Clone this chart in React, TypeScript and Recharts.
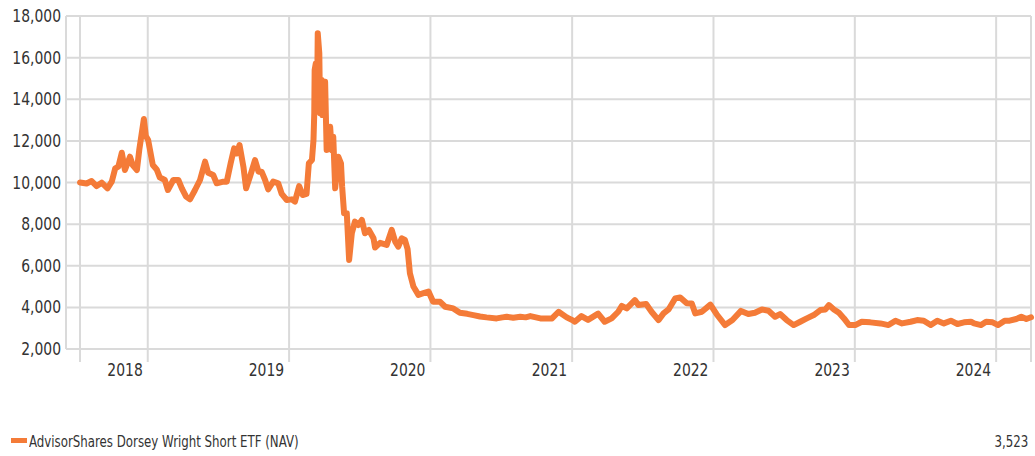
import React from 'react';
import { LineChart, Line, XAxis, YAxis, CartesianGrid } from 'recharts';

const FONT = "'Liberation Sans Narrow', 'DejaVu Sans Condensed', 'Liberation Sans', sans-serif";
const LINE_COLOR = '#f47b38';
const GRID_COLOR = '#dadada';
const TEXT_COLOR = '#333';
const SQUEEZE = 0.86;
const LEGEND_SQUEEZE = 0.82;

const SERIES_NAME = 'AdvisorShares Dorsey Wright Short ETF (NAV)';
const LAST_VALUE = '3,523';

const START = '2017-07-10';
const END = '2024-03-31';
const YEARS = [2018, 2019, 2020, 2021, 2022, 2023, 2024];
const Y_TICKS = [2000, 4000, 6000, 8000, 10000, 12000, 14000, 16000, 18000];

const DATES = [
  '2017-07-10', '2017-07-27', '2017-08-09', '2017-08-22', '2017-09-04', '2017-09-19', '2017-09-30',
  '2017-10-09', '2017-10-17', '2017-10-26', '2017-11-03', '2017-11-16', '2017-11-23', '2017-12-04',
  '2017-12-10', '2017-12-22', '2017-12-27', '2018-01-02', '2018-01-14', '2018-01-24', '2018-02-01',
  '2018-02-14', '2018-02-22', '2018-03-08', '2018-03-21', '2018-03-30', '2018-04-10', '2018-04-20',
  '2018-05-03', '2018-05-16', '2018-05-29', '2018-06-06', '2018-06-19', '2018-06-28', '2018-07-15',
  '2018-07-24', '2018-08-03', '2018-08-12', '2018-08-19', '2018-08-26', '2018-09-05', '2018-09-12',
  '2018-09-22', '2018-10-05', '2018-10-14', '2018-10-22', '2018-10-31', '2018-11-08', '2018-11-21',
  '2018-12-04', '2018-12-13', '2018-12-26', '2019-01-08', '2019-01-16', '2019-01-27', '2019-02-05',
  '2019-02-15', '2019-02-21', '2019-03-01', '2019-03-05', '2019-03-07', '2019-03-08', '2019-03-11',
  '2019-03-14', '2019-03-16', '2019-03-20', '2019-03-22', '2019-03-26', '2019-03-28', '2019-04-04',
  '2019-04-08', '2019-04-17', '2019-04-21', '2019-04-25', '2019-04-30', '2019-05-08', '2019-05-15',
  '2019-05-18', '2019-05-23', '2019-05-30', '2019-06-05', '2019-06-12', '2019-06-20', '2019-06-29',
  '2019-07-08', '2019-07-16', '2019-07-26', '2019-08-07', '2019-08-11', '2019-08-24', '2019-09-10',
  '2019-09-23', '2019-10-02', '2019-10-10', '2019-10-19', '2019-10-27', '2019-11-03', '2019-11-09',
  '2019-11-18', '2019-12-01', '2019-12-14', '2019-12-27', '2020-01-08', '2020-01-26', '2020-02-08',
  '2020-02-29', '2020-03-17', '2020-04-05', '2020-04-21', '2020-05-08', '2020-05-25', '2020-06-20',
  '2020-07-05', '2020-07-16', '2020-08-02', '2020-08-20', '2020-09-03', '2020-09-15', '2020-10-11',
  '2020-10-19', '2020-11-10', '2020-11-27', '2020-12-18', '2021-01-04', '2021-01-08', '2021-01-25',
  '2021-02-11', '2021-03-09', '2021-03-26', '2021-04-13', '2021-04-30', '2021-05-09', '2021-05-22',
  '2021-06-12', '2021-06-21', '2021-07-11', '2021-07-25', '2021-08-12', '2021-08-25', '2021-09-07',
  '2021-09-24', '2021-10-07', '2021-10-24', '2021-11-06', '2021-11-15', '2021-12-02', '2021-12-24',
  '2022-01-09', '2022-01-31', '2022-02-19', '2022-03-13', '2022-04-01', '2022-04-18', '2022-05-06',
  '2022-05-23', '2022-06-09', '2022-06-22', '2022-07-09', '2022-07-27', '2022-08-13', '2022-08-30',
  '2022-09-17', '2022-10-04', '2022-10-17', '2022-10-26', '2022-11-08', '2022-11-21', '2022-12-04',
  '2022-12-17', '2023-01-02', '2023-01-19', '2023-02-10', '2023-03-08', '2023-03-29', '2023-04-16',
  '2023-05-03', '2023-05-25', '2023-06-11', '2023-06-28', '2023-07-16', '2023-08-02', '2023-08-19',
  '2023-09-06', '2023-09-23', '2023-10-10', '2023-10-28', '2023-11-05', '2023-11-23', '2023-12-06',
  '2023-12-23', '2024-01-06', '2024-01-23', '2024-02-05', '2024-02-22', '2024-03-06', '2024-03-19',
  '2024-03-31',
];

const NAV = [
  10000, 9950, 10070, 9830, 9990, 9720, 10040,
  10680, 10760, 11430, 10600, 11240, 10840, 10600,
  11560, 13050, 12230, 12040, 10840, 10630, 10250,
  10120, 9640, 10120, 10120, 9720, 9320, 9190,
  9640, 10120, 11000, 10470, 10360, 9960, 10040,
  10040, 10920, 11640, 11400, 11800, 10760, 9720,
  10280, 11080, 10520, 10520, 10120, 9670, 10040,
  9960, 9450, 9160, 9190, 9080, 9830, 9400,
  9450, 10920, 11080, 12040, 13330, 15400, 15730,
  13480, 17170, 16210, 13330, 14930, 13240, 14840,
  11560, 12680, 11560, 12200, 9720, 11240, 10920,
  9800, 8520, 8520, 6280, 7560, 8120, 7960,
  8200, 7560, 7720, 7320, 6880, 7100, 7000,
  7720, 7160, 6920, 7320, 7240, 6800, 5640,
  5000, 4600, 4680, 4760, 4270, 4270, 4030,
  3950, 3740, 3690, 3630, 3560, 3520, 3470,
  3520, 3550, 3500, 3550, 3520, 3580, 3470,
  3470, 3470, 3790, 3520, 3360, 3310, 3580,
  3400, 3700, 3310, 3470, 3790, 4070, 3950,
  4350, 4110, 4160, 3790, 3390, 3710, 3900,
  4430, 4480, 4200, 4190, 3710, 3790, 4130,
  3670, 3150, 3390, 3830, 3680, 3740, 3900,
  3840, 3550, 3680, 3390, 3150, 3310, 3470,
  3630, 3870, 3900, 4110, 3900, 3740, 3470,
  3150, 3150, 3310, 3280, 3230, 3150, 3360,
  3230, 3310, 3390, 3360, 3150, 3360, 3230,
  3360, 3200, 3280, 3310, 3230, 3150, 3310,
  3280, 3150, 3360, 3360, 3440, 3550, 3440,
  3523,
];

const toTime = (d: string) => Date.parse(d + 'T00:00:00Z');

const rows = DATES.map((d, i) => ({ t: toTime(d), nav: NAV[i] }));
const yearTimes = YEARS.map((y) => toTime(`${y}-01-01`));
const xTicks = [toTime(START), ...yearTimes, toTime(END)];

const YearTick = (props: any) => {
  const { x, y, payload } = props;
  const idx = yearTimes.indexOf(payload.value);
  if (idx < 0) return null;
  return (
    <text
      transform={`translate(${x - 5},${y + 12}) scale(${SQUEEZE},1)`}
      textAnchor="end"
      fill={TEXT_COLOR}
      fontSize={18}
      fontFamily={FONT}
    >
      {YEARS[idx]}
    </text>
  );
};

const ValueTick = (props: any) => {
  const { x, y, payload } = props;
  return (
    <text
      transform={`translate(${x},${y + 6}) scale(${SQUEEZE},1)`}
      textAnchor="end"
      fill={TEXT_COLOR}
      fontSize={18}
      fontFamily={FONT}
    >
      {Number(payload.value).toLocaleString('en-US')}
    </text>
  );
};

const App: React.FC = () => {
  return (
    <div style={{ position: 'absolute', left: 0, top: 0, width: 1035, height: 456, background: '#fff', fontFamily: FONT }}>
      <LineChart width={1035} height={390} data={rows} margin={{ top: 16, right: 4, left: 0, bottom: 0 }}>
        <CartesianGrid stroke={GRID_COLOR} strokeWidth={2} />
        <XAxis
          dataKey="t"
          type="number"
          domain={[toTime(START), toTime(END)]}
          ticks={xTicks}
          padding={{ left: 14, right: 0 }}
          height={41}
          axisLine={false}
          tickLine={{ stroke: GRID_COLOR, strokeWidth: 2 }}
          tickSize={13}
          tickMargin={2}
          tick={<YearTick />}
          interval={0}
        />
        <YAxis
          domain={[2000, 18000]}
          ticks={Y_TICKS}
          width={66}
          axisLine={false}
          tickLine={false}
          tickSize={5}
          tickMargin={0}
          tick={<ValueTick />}
          interval={0}
        />
        <Line
          type="linear"
          dataKey="nav"
          stroke={LINE_COLOR}
          strokeWidth={6}
          dot={false}
          strokeLinejoin="round"
          strokeLinecap="round"
          isAnimationActive={false}
        />
      </LineChart>
      <div style={{ position: 'absolute', left: 11, top: 438, width: 16, height: 5, background: LINE_COLOR }} />
      <div
        style={{
          position: 'absolute', left: 29, top: 432, fontSize: 16, color: TEXT_COLOR, lineHeight: '20px',
          whiteSpace: 'nowrap', transform: `scaleX(${LEGEND_SQUEEZE})`, transformOrigin: 'left center',
        }}
      >
        {SERIES_NAME}
      </div>
      <div
        style={{
          position: 'absolute', right: 7, top: 432, fontSize: 16, color: TEXT_COLOR, lineHeight: '20px',
          whiteSpace: 'nowrap', transform: `scaleX(${LEGEND_SQUEEZE})`, transformOrigin: 'right center',
        }}
      >
        {LAST_VALUE}
      </div>
    </div>
  );
};

export default App;
